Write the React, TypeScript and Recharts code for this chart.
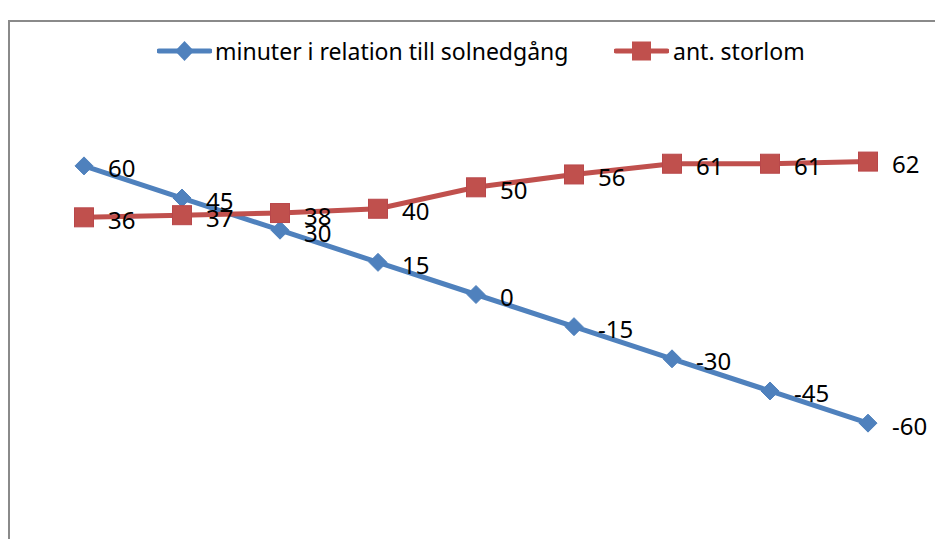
import React from "react";
import { LineChart, Line, XAxis, YAxis } from "recharts";

const points = ["1", "2", "3", "4", "5", "6", "7", "8", "9"];
const minutes = [60, 45, 30, 15, 0, -15, -30, -45, -60];
const storlom = [36, 37, 38, 40, 50, 56, 61, 61, 62];

const BLUE = "#4F81BD";
const RED = "#C0504D";
const FONT = "'Noto Sans', 'Open Sans', sans-serif";

const data = points.map((p, i) => ({ p, minutes: minutes[i], storlom: storlom[i] }));

const Diamond = (props: any) => {
  const { cx, cy } = props;
  if (cx == null || cy == null) return null;
  return (
    <polygon
      points={`${cx - 9},${cy} ${cx},${cy - 9} ${cx + 9},${cy} ${cx},${cy + 9}`}
      fill={BLUE}
      stroke={BLUE}
      strokeWidth={1}
    />
  );
};

const Square = (props: any) => {
  const { cx, cy } = props;
  if (cx == null || cy == null) return null;
  return <rect x={cx - 9.5} y={cy - 9.5} width={19} height={19} fill={RED} stroke="#b9474a" strokeWidth={1} />;
};

const renderLabel = (props: any) => {
  const { x, y, value } = props;
  return (
    <text x={x + 24} y={y + 2} fill="#000" fontSize={24} fontFamily={FONT} dominantBaseline="central">
      {value}
    </text>
  );
};

const LegendIcon = ({ color, square }: { color: string; square?: boolean }) => (
  <svg width={55} height={22} style={{ display: "block" }}>
    <line x1={2} y1={11} x2={53} y2={11} stroke={color} strokeWidth={5} strokeLinecap="round" />
    {square ? (
      <rect x={18} y={1.5} width={19} height={19} fill={color} />
    ) : (
      <polygon points="18,11 27.5,1 37,11 27.5,21" fill={color} />
    )}
  </svg>
);

// legend sits outside the chart so it doesn't shrink the plot area
const ChartLegend = () => (
  <div style={{ position: "absolute", left: 0, top: 36, width: 935, height: 30, fontFamily: FONT, fontSize: 23, color: "#000" }}>
    <div style={{ position: "absolute", left: 157, top: 0, display: "flex", alignItems: "center", height: 30 }}>
      <LegendIcon color={BLUE} />
      <span style={{ marginLeft: 3, whiteSpace: "nowrap" }}>minuter i relation till solnedgång</span>
    </div>
    <div style={{ position: "absolute", left: 614, top: 0, display: "flex", alignItems: "center", height: 30 }}>
      <LegendIcon color={RED} square />
      <span style={{ marginLeft: 4, whiteSpace: "nowrap" }}>ant. storlom</span>
    </div>
  </div>
);

export default function App() {
  return (
    <div style={{ position: "absolute", left: 0, top: 0, width: 935, height: 539, overflow: "hidden", background: "#fff" }}>
      <div
        style={{
          position: "absolute",
          left: 8,
          top: 20,
          width: 1000,
          height: 600,
          borderLeft: "2px solid #8a8a8a",
          borderTop: "2px solid #8a8a8a",
        }}
      />
      <ChartLegend />
      <div style={{ position: "absolute", left: 0, top: 0 }}>
        <LineChart width={935} height={539} data={data} margin={{ top: 123, right: 67, left: 84, bottom: 73 }}>
          <XAxis dataKey="p" hide />
          <YAxis hide domain={[-80, 80]} />
          <Line
            dataKey="minutes"
            stroke={BLUE}
            strokeWidth={5}
            dot={<Diamond />}
            label={renderLabel}
            isAnimationActive={false}
          />
          <Line
            dataKey="storlom"
            stroke={RED}
            strokeWidth={5}
            dot={<Square />}
            label={renderLabel}
            isAnimationActive={false}
          />
        </LineChart>
      </div>
    </div>
  );
}
